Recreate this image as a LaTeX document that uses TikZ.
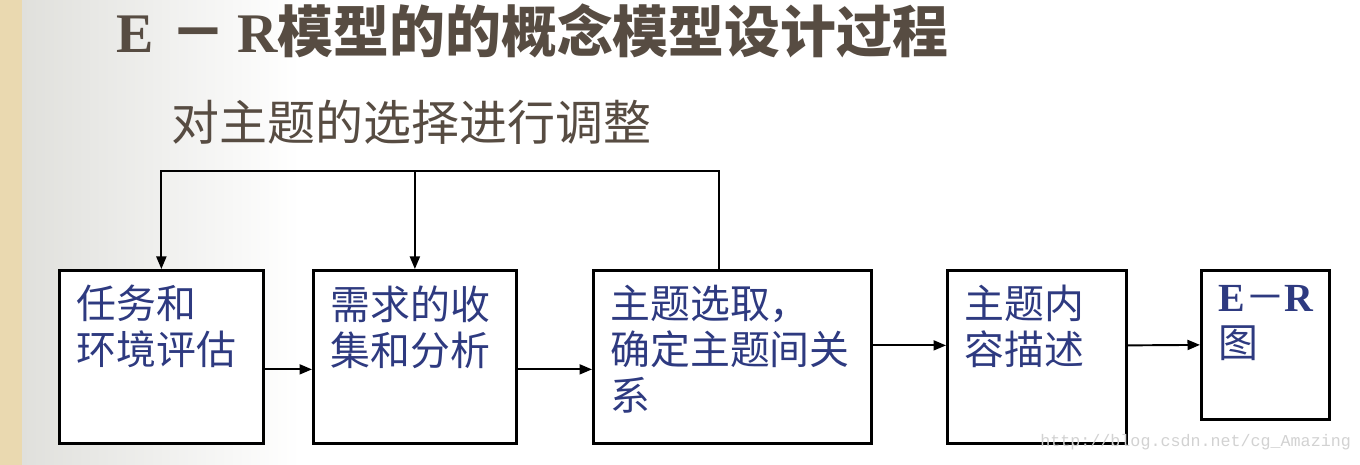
\documentclass[tikz,border=0pt]{standalone}
\usepackage{fontspec}
\usetikzlibrary{arrows.meta}
\setmainfont{Liberation Serif}
\newfontfamily\cjk{Noto Sans CJK SC}
\newfontfamily\wmfont{Liberation Mono}
\definecolor{parch}{HTML}{EAD9B0}
\definecolor{slidegray}{HTML}{E0E0DC}
\definecolor{titlebrown}{HTML}{574C42}
\definecolor{boxblue}{HTML}{2E3A80}
\tikzstyle{stage}=[draw=black, line width=1.6pt, fill=white, anchor=north west, inner xsep=0.34cm, inner ysep=0.3cm, text=boxblue, font=\cjk\fontsize{22.7}{26.2}\selectfont]
\tikzstyle{flow}=[line width=1.1pt, -{Triangle[length=0.25cm, width=0.2cm]}]
\newcommand{\stagetext}[3]{\parbox[c][#2][t]{#1}{\raggedright #3}}

\begin{document}
\begin{tikzpicture}[x=0.02cm, y=-0.02cm]
			% slide background
			\useasboundingbox (0,0) rectangle (1360,465);
			\fill[white] (0,0) rectangle (1360,465);
			\shade[left color=slidegray, right color=white] (22,0) rectangle (300,465);
			\fill[parch] (0,0) rectangle (22,465);

			% headings
			\node[anchor=west, inner sep=0, text=titlebrown, font=\cjk\bfseries\fontsize{31.8}{34}\selectfont] (title) at (116,31)
				{{\rmfamily E}\hspace{0.3em}－\hspace{0.2em}{\rmfamily R}模型的的概念模型设计过程};
			\node[anchor=west, inner sep=0, text=titlebrown, font=\cjk\fontsize{27.3}{30}\selectfont] (subtitle) at (171,122)
				{对主题的选择进行调整};

			% stages
			\node[stage] (task) at (58,269) {\stagetext{3.40cm}{2.86cm}{任务和\\环境评估}};
			\node[stage] (need) at (312,269) {\stagetext{3.38cm}{2.86cm}{需求的收\\集和分析}};
			\node[stage] (pick) at (592,269) {\stagetext{4.88cm}{2.86cm}{主题选取，\\确定主题间关\\系}};
			\node[stage] (desc) at (946,269) {\stagetext{2.90cm}{2.86cm}{主题内\\容描述}};
			\node[stage] (er) at (1200,269) {\stagetext{1.88cm}{2.38cm}{{\rmfamily\bfseries E}－{\rmfamily\bfseries R}\\图}};

			% forward arrows
			\draw[flow] ([yshift=-0.25cm]task.east) -- ([yshift=-0.25cm]need.west);
			\draw[flow] ([yshift=-0.25cm]need.east) -- ([yshift=-0.25cm]pick.west);
			\draw[flow] ([yshift=0.23cm]pick.east) -- ([yshift=0.23cm]desc.west);
			\draw[flow] ([yshift=0.23cm]desc.east) -- (er.west);

			% feedback loop
			\coordinate (loop) at (0,171);
			\draw[flow] ([xshift=-0.26cm]pick.north) |- (task.north |- loop) -- (task.north);
			\draw[flow] (need.north |- loop) -- (need.north);

			\node[anchor=west, inner sep=0, text=gray!35, font=\wmfont\fontsize{9.5}{10}\selectfont] (mark) at (1040,442) {http://blog.csdn.net/cg\_Amazing};
\end{tikzpicture}
\end{document}
